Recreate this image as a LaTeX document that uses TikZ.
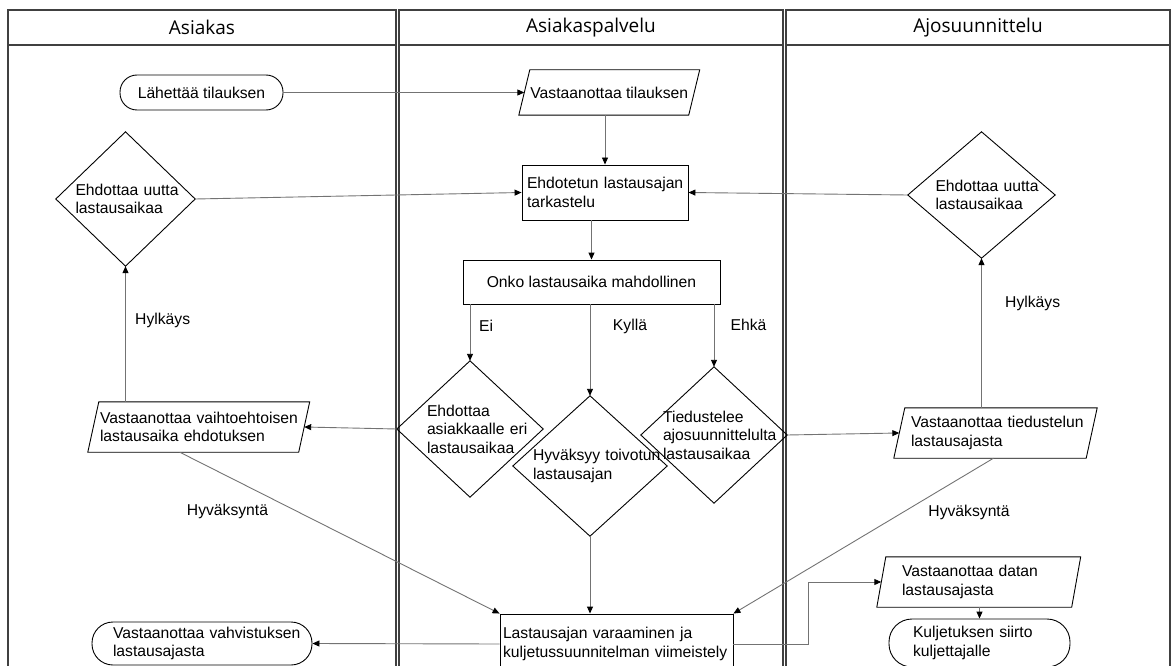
\documentclass[tikz,border=0pt]{standalone}
\usepackage{fontspec}
\setmainfont{Liberation Sans}
\newfontfamily\headfont{Open Sans}
\usetikzlibrary{arrows.meta,calc}

% no hyphenation inside the wrapped labels
\hyphenpenalty=10000
\exhyphenpenalty=10000

% outline helpers: parallelogram around a rectangle node, diamond through its edge midpoints
\newcommand\pgramoutline[2]{%
  \draw[outline] ([xshift=#2]#1.north west) -- ([xshift=#2]#1.north east)
    -- ([xshift=-#2]#1.south east) -- ([xshift=-#2]#1.south west) -- cycle;}
\newcommand\diamondoutline[1]{%
  \draw[outline] (#1.north) -- (#1.east) -- (#1.south) -- (#1.west) -- cycle;}

\begin{document}
\begin{tikzpicture}[x=1pt,y=-1pt,
  font=\fontsize{15.7}{18.6}\selectfont,
  lane/.style={draw=black!75, line width=1.3pt},
  headtext/.style={font=\headfont\fontsize{19}{22}\selectfont},
  outline/.style={draw=black, line width=0.9pt},
  wrapped/.style={align=left, inner ysep=2pt,
    execute at begin node={\hyphenpenalty=10000\exhyphenpenalty=10000}},
  flow/.style={draw=black!55, line width=0.9pt,
    -{Triangle[length=7pt,width=6pt,color=black]}},
  lbl/.style={inner sep=0pt},
]
\useasboundingbox (0,0) rectangle (1173,666);
\clip (0,0) rectangle (1173,666);

% swimlanes
\draw[lane] (8,10) rectangle (396,720);   \draw[lane] (8,45) -- (396,45);
\draw[lane] (399,10) rectangle (783,720); \draw[lane] (399,45) -- (783,45);
\draw[lane] (786,10) rectangle (1170,720);\draw[lane] (786,45) -- (1170,45);
\node[headtext] (h1) at (202,27.5) {Asiakas};
\node[headtext] (h2) at (591,27.5) {Asiakaspalvelu};
\node[headtext] (h3) at (978,27.5) {Ajosuunnittelu};

% Asiakas
\node[outline, rounded corners=17pt, minimum width=163pt, minimum height=35pt]
  (lah) at (201.5,92.5) {Lähettää tilauksen};
\node[wrapped, text width=100pt, inner xsep=19.5pt, minimum height=134pt]
  (ld) at (125.5,199) {Ehdottaa~uutta\\lastausaikaa};
\diamondoutline{ld}
\node[wrapped, text width=197.5pt, inner xsep=6.5pt, minimum height=50pt]
  (lp) at (198.75,427) {Vastaanottaa~vaihtoehtoisen\\lastausaika~ehdotuksen};
\pgramoutline{lp}{5.5pt}
\node[outline, wrapped, rounded corners=21pt, text width=178pt, inner xsep=21pt, minimum height=43pt]
  (bl) at (202,643.5) {Vastaanottaa~vahvistuksen\\lastausajasta};

% Asiakaspalvelu
\node[minimum width=169.5pt, minimum height=45pt]
  (vt) at (609.25,92.5) {Vastaanottaa tilauksen};
\pgramoutline{vt}{5.5pt}
\node[outline, wrapped, text width=156pt, inner xsep=5pt, minimum height=55pt]
  (ehd) at (605,192.5) {Ehdotetun~lastausajan\\tarkastelu};
\node[outline, minimum width=257pt, minimum height=44pt]
  (onko) at (591.5,282) {Onko lastausaika mahdollinen};
\node[wrapped, text width=86pt, inner xsep=30pt, minimum height=136pt]
  (ei) at (470,429) {Ehdottaa\\asiakkaalle~eri\\lastausaikaa};
\diamondoutline{ei}
\node[wrapped, text width=114pt, inner xsep=20pt, minimum height=140pt]
  (ky) at (590,466) {Hyväksyy~toivotun\\lastausajan};
\diamondoutline{ky}
\node[wrapped, text width=102pt, inner xsep=22pt, minimum height=136pt]
  (eh) at (714,435) {Tiedustelee\\ajosuunnittelulta\\lastausaikaa};
\diamondoutline{eh}
\node[outline, wrapped, text width=227pt, inner xsep=3pt, minimum height=60pt]
  (lastr) at (616.5,644) {Lastausajan~varaaminen~ja\\kuljetussuunnitelman~viimeistely};

% Ajosuunnittelu
\node[wrapped, text width=92pt, inner xsep=27.5pt, minimum height=126pt]
  (rd) at (981.5,195) {Ehdottaa~uutta\\lastausaikaa};
\diamondoutline{rd}
\node[wrapped, text width=169pt, inner xsep=11.5pt, minimum height=50pt]
  (rp) at (995.5,433) {Vastaanottaa~tiedustelun\\lastausajasta};
\pgramoutline{rp}{5.5pt}
\node[wrapped, text width=153.5pt, inner xsep=20.5pt, minimum height=50pt]
  (dt) at (978.75,582) {Vastaanottaa~datan\\lastausajasta};
\pgramoutline{dt}{4.5pt}
\node[outline, wrapped, rounded corners=23pt, text width=133pt, inner xsep=24pt, minimum height=48pt]
  (kj) at (979.5,643) {Kuljetuksen~siirto\\kuljettajalle};

% connector labels
\node[lbl, anchor=west] (lei) at (479,326) {Ei};
\node[lbl] (lky) at (630,326) {Kyllä};
\node[lbl] (leh) at (748.5,325) {Ehkä};
\node[lbl, anchor=west] (lhy1) at (135,320) {Hylkäys};
\node[lbl, anchor=west] (lhy2) at (1005,303) {Hylkäys};
\node[lbl] (lhv1) at (227.5,511) {Hyväksyntä};
\node[lbl] (lhv2) at (969,512) {Hyväksyntä};

% connectors
\draw[flow] (lah.east) -- (vt.west);
\draw[flow] (vt.south -| ehd.north) -- (ehd.north);
\draw[flow] (ehd.south -| onko.north) -- (onko.north);
\draw[flow] (ld.east) -- (ehd.west);
\draw[flow] (rd.west) -- (ehd.east);
\draw[flow] (onko.south -| ei.north) -- (ei.north);
\draw[flow] (onko.south -| ky.north) -- (ky.north);
\draw[flow] (onko.south -| eh.north) -- (eh.north);
\draw[flow] (ei.west) -- (lp.east);
\draw[flow] (eh.east) -- (rp.west);
\draw[flow] (ld.south |- lp.north) -- (ld.south);
\draw[flow] (rd.south |- rp.north) -- (rd.south);
\draw[flow] ([xshift=-19pt]lp.south) -- (lastr.north west);
\draw[flow] ([xshift=-2pt]rp.south) -- (lastr.north east);
\draw[flow] (ky.south) -- (ky.south |- lastr.north);
\draw[flow] (lastr.west) -- (bl.east);
\draw[flow] (lastr.east) -- ++(75,0) |- (dt.west);
\draw[flow] (dt.south -| kj.north) -- (kj.north);
\end{tikzpicture}
\end{document}
